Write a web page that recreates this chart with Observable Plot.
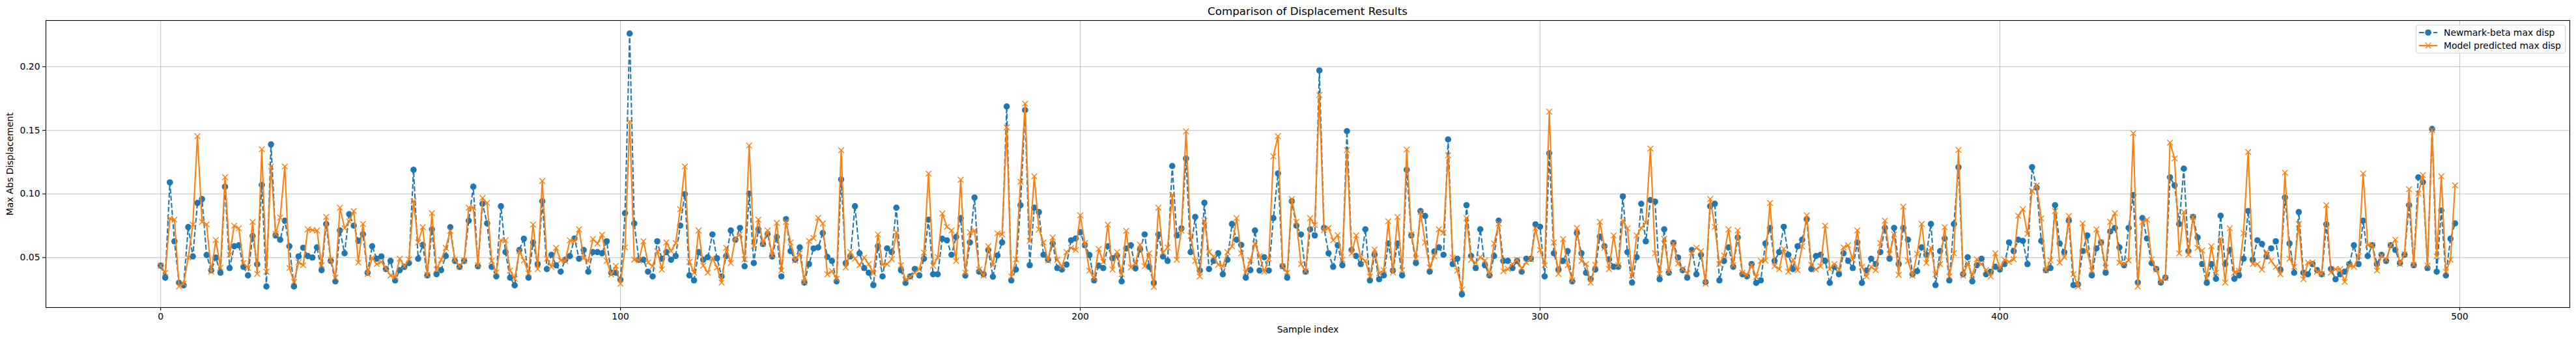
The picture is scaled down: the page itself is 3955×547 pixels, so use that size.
<!DOCTYPE html>
<html>
<head>
<meta charset="utf-8">
<script src="https://cdn.jsdelivr.net/npm/d3@7"></script>
<script src="https://cdn.jsdelivr.net/npm/@observablehq/plot@0.6"></script>
<style>
  html, body { margin: 0; padding: 0; background: white; }
  #wrap { position: relative; width: 3955px; height: 547px; font-family: "DejaVu Sans", sans-serif; color: black; }
  #title { position: absolute; left: 70px; width: 3875px; top: 9px; text-align: center; font-size: 16.7px; line-height: 1; }
  #chart { position: absolute; left: 0; top: 30px; }
  #legend { position: absolute; left: 3709px; top: 38px; width: 228px; height: 42px; border: 1px solid #d4d4d4; border-radius: 3px; background: rgba(255,255,255,0.8); font-size: 13.9px; }
  .row { position: absolute; left: 0; height: 20px; width: 100%; }
  .row svg { position: absolute; left: 4px; top: 3px; }
  .row span { position: absolute; left: 42px; top: 1px; line-height: 18px; white-space: nowrap; }
</style>
</head>
<body>
<div id="wrap">
  <div id="title">Comparison of Displacement Results</div>
  <div id="chart"></div>
  <div id="legend"></div>
</div>
<script>
const seriesNames = ["Newmark-beta max disp", "Model predicted max disp"];
const xTicks = [0, 100, 200, 300, 400, 500];
const yTicks = [0.05, 0.10, 0.15, 0.20];
const xLabel = "Sample index";
const yLabel = "Max Abs Displacement";

const newmark = [
0.0437,0.0342,0.1091,0.0628,0.0301,0.0282,0.0740,0.0509,0.0929,0.0960,
0.0520,0.0400,0.0500,0.0381,0.1057,0.0418,0.0589,0.0597,0.0428,0.0360,
0.0670,0.0447,0.1071,0.0273,0.1390,0.0674,0.0640,0.0790,0.0589,0.0273,
0.0509,0.0577,0.0512,0.0500,0.0580,0.0401,0.0764,0.0474,0.0313,0.0713,
0.0534,0.0841,0.0751,0.0631,0.0684,0.0381,0.0589,0.0491,0.0509,0.0410,
0.0474,0.0321,0.0401,0.0427,0.0457,0.1190,0.0491,0.0599,0.0360,0.0722,
0.0369,0.0401,0.0512,0.0739,0.0474,0.0427,0.0474,0.0790,0.1057,0.0432,
0.0923,0.0769,0.0428,0.0352,0.0904,0.0543,0.0342,0.0282,0.0560,0.0648,
0.0342,0.0619,0.0449,0.0943,0.0410,0.0522,0.0440,0.0389,0.0483,0.0512,
0.0650,0.0491,0.0560,0.0389,0.0543,0.0543,0.0534,0.0628,0.0381,0.0381,
0.0326,0.0849,0.2261,0.0768,0.0483,0.0483,0.0389,0.0352,0.0628,0.0491,
0.0543,0.0483,0.0512,0.0751,0.0999,0.0360,0.0321,0.0543,0.0483,0.0503,
0.0682,0.0495,0.0352,0.0512,0.0713,0.0640,0.0733,0.0432,0.1003,0.0457,
0.0722,0.0607,0.0687,0.0509,0.0662,0.0352,0.0802,0.0551,0.0483,0.0580,
0.0304,0.0449,0.0572,0.0580,0.0693,0.0505,0.0474,0.0313,0.1114,0.0457,
0.0509,0.0904,0.0534,0.0418,0.0381,0.0284,0.0590,0.0352,0.0572,0.0543,
0.0892,0.0401,0.0301,0.0352,0.0410,0.0360,0.0491,0.0798,0.0369,0.0369,
0.0648,0.0636,0.0522,0.0662,0.0810,0.0359,0.0619,0.0972,0.0389,0.0369,
0.0560,0.0350,0.0517,0.0619,0.1688,0.0321,0.0406,0.0912,0.1659,0.0440,
0.0892,0.0858,0.0522,0.0483,0.0611,0.0418,0.0406,0.0445,0.0636,0.0650,
0.0699,0.0597,0.0520,0.0321,0.0437,0.0418,0.0589,0.0495,0.0517,0.0313,
0.0572,0.0597,0.0415,0.0563,0.0682,0.0427,0.0301,0.0682,0.0509,0.0474,
0.1220,0.0674,0.0730,0.1279,0.0543,0.0819,0.0398,0.0931,0.0410,0.0474,
0.0534,0.0369,0.0483,0.0764,0.0640,0.0599,0.0342,0.0401,0.0713,0.0398,
0.0503,0.0398,0.0810,0.1161,0.0432,0.0342,0.0943,0.0751,0.0682,0.0389,
0.0722,0.0674,0.1971,0.0733,0.0534,0.0428,0.0597,0.0440,0.1494,0.0560,
0.0512,0.0449,0.0722,0.0321,0.0522,0.0330,0.0360,0.0611,0.0398,0.0611,
0.0360,0.1190,0.0674,0.0457,0.0866,0.0827,0.0389,0.0548,0.0580,0.0522,
0.1429,0.0449,0.0491,0.0210,0.0912,0.0512,0.0418,0.0722,0.0440,0.0360,
0.0512,0.0790,0.0474,0.0474,0.0418,0.0474,0.0389,0.0491,0.0491,0.0761,
0.0742,0.0352,0.1321,0.0534,0.0406,0.0474,0.0551,0.0313,0.0693,0.0534,
0.0381,0.0330,0.0406,0.0665,0.0589,0.0486,0.0428,0.0428,0.0981,0.0543,
0.0304,0.0503,0.0923,0.0628,0.0952,0.0940,0.0330,0.0722,0.0381,0.0616,
0.0500,0.0401,0.0342,0.0560,0.0369,0.0522,0.0307,0.0904,0.0923,0.0321,
0.0474,0.0580,0.0428,0.0658,0.0369,0.0352,0.0449,0.0301,0.0321,0.0611,
0.0733,0.0474,0.0543,0.0742,0.0522,0.0410,0.0589,0.0640,0.0802,0.0410,
0.0512,0.0522,0.0474,0.0301,0.0427,0.0369,0.0534,0.0474,0.0418,0.0619,
0.0301,0.0398,0.0491,0.0449,0.0543,0.0733,0.0491,0.0733,0.0449,0.0733,
0.0640,0.0369,0.0393,0.0580,0.0522,0.0764,0.0284,0.0551,0.0650,0.0321,
0.0764,0.1211,0.0369,0.0503,0.0313,0.0440,0.0491,0.0369,0.0389,0.0428,
0.0406,0.0449,0.0619,0.0551,0.0640,0.0631,0.0449,0.1211,0.1049,0.0631,
0.0401,0.0418,0.0912,0.0611,0.0543,0.0790,0.0284,0.0290,0.0551,0.0674,
0.0360,0.0572,0.0619,0.0381,0.0705,0.0733,0.0580,0.0440,0.0733,0.0991,
0.0304,0.0810,0.0650,0.0457,0.0410,0.0304,0.0342,0.1131,0.1068,0.0764,
0.1199,0.0551,0.0820,0.0658,0.0449,0.0301,0.0449,0.0333,0.0829,0.0449,
0.0560,0.0333,0.0360,0.0491,0.0866,0.0483,0.0636,0.0607,0.0509,0.0572,
0.0628,0.0406,0.0972,0.0611,0.0381,0.0858,0.0381,0.0369,0.0449,0.0401,
0.0369,0.0761,0.0410,0.0330,0.0369,0.0389,0.0449,0.0597,0.0449,0.0790,
0.0512,0.0597,0.0449,0.0522,0.0474,0.0597,0.0560,0.0457,0.0522,0.0912,
0.0440,0.1131,0.1093,0.0418,0.1511,0.0389,0.0870,0.0360,0.0648,0.0769
];

const model = [
0.0437,0.0381,0.0807,0.0798,0.0273,0.0295,0.0500,0.0759,0.1454,0.0781,
0.0761,0.0389,0.0638,0.0420,0.1131,0.0522,0.0751,0.0730,0.0457,0.0420,
0.0781,0.0372,0.1352,0.0389,0.1216,0.0687,0.0815,0.1216,0.0418,0.0309,
0.0463,0.0440,0.0722,0.0716,0.0713,0.0440,0.0819,0.0483,0.0343,0.0892,
0.0730,0.0785,0.0866,0.0461,0.0764,0.0372,0.0497,0.0449,0.0466,0.0415,
0.0359,0.0347,0.0491,0.0432,0.0486,0.0943,0.0619,0.0739,0.0364,0.0849,
0.0406,0.0483,0.0577,0.0710,0.0483,0.0432,0.0478,0.0892,0.0892,0.0440,
0.0969,0.0929,0.0474,0.0384,0.0636,0.0636,0.0398,0.0333,0.0551,0.0478,
0.0376,0.0759,0.0410,0.1102,0.0491,0.0427,0.0577,0.0478,0.0474,0.0636,
0.0628,0.0722,0.0495,0.0474,0.0645,0.0611,0.0679,0.0474,0.0367,0.0435,
0.0295,0.0580,0.1569,0.0483,0.0478,0.0628,0.0461,0.0432,0.0551,0.0406,
0.0619,0.0551,0.0614,0.0880,0.1216,0.0466,0.0381,0.0713,0.0437,0.0381,
0.0495,0.0423,0.0304,0.0577,0.0457,0.0653,0.0682,0.0486,0.1381,0.0589,
0.0798,0.0611,0.0713,0.0517,0.0773,0.0398,0.0781,0.0619,0.0478,0.0534,
0.0307,0.0631,0.0653,0.0812,0.0768,0.0369,0.0393,0.0333,0.1344,0.0423,
0.0543,0.0491,0.0440,0.0500,0.0449,0.0376,0.0682,0.0444,0.0449,0.0488,
0.0699,0.0440,0.0326,0.0347,0.0381,0.0410,0.0539,0.1160,0.0437,0.0503,
0.0846,0.0742,0.0713,0.0474,0.1112,0.0381,0.0699,0.0713,0.0406,0.0359,
0.0589,0.0440,0.0691,0.0682,0.1523,0.0352,0.0486,0.1096,0.1710,0.0631,
0.1139,0.0722,0.0619,0.0478,0.0658,0.0483,0.0427,0.0543,0.0577,0.0560,
0.0832,0.0614,0.0398,0.0338,0.0568,0.0466,0.0759,0.0406,0.0543,0.0369,
0.0710,0.0423,0.0454,0.0602,0.0432,0.0534,0.0270,0.0892,0.0539,0.0580,
0.0994,0.0483,0.0713,0.1492,0.0670,0.0474,0.0352,0.0790,0.0543,0.0509,
0.0444,0.0432,0.0543,0.0589,0.0810,0.0534,0.0384,0.0478,0.0611,0.0512,
0.0389,0.0491,0.1296,0.1454,0.0432,0.0381,0.0960,0.0781,0.0449,0.0393,
0.0810,0.0756,0.1778,0.0716,0.0733,0.0636,0.0676,0.0483,0.1344,0.0534,
0.0674,0.0500,0.0474,0.0352,0.0563,0.0376,0.0401,0.0785,0.0384,0.0819,
0.0401,0.1349,0.0682,0.0495,0.0858,0.0619,0.0423,0.0509,0.0722,0.0696,
0.1304,0.0500,0.0398,0.0248,0.0810,0.0483,0.0457,0.0503,0.0478,0.0369,
0.0611,0.0768,0.0393,0.0410,0.0449,0.0483,0.0415,0.0461,0.0488,0.0730,
0.0560,0.0440,0.1647,0.0619,0.0372,0.0645,0.0440,0.0321,0.0733,0.0474,
0.0449,0.0304,0.0444,0.0781,0.0577,0.0410,0.0674,0.0440,0.0790,0.0730,
0.0359,0.0674,0.0733,0.0773,0.1357,0.0534,0.0372,0.0648,0.0389,0.0611,
0.0454,0.0410,0.0376,0.0539,0.0577,0.0551,0.0295,0.0960,0.0742,0.0449,
0.0517,0.0722,0.0440,0.0713,0.0381,0.0364,0.0440,0.0347,0.0474,0.0478,
0.0929,0.0432,0.0410,0.0568,0.0389,0.0483,0.0401,0.0589,0.0832,0.0444,
0.0406,0.0432,0.0751,0.0410,0.0449,0.0406,0.0580,0.0597,0.0483,0.0713,
0.0427,0.0352,0.0427,0.0401,0.0614,0.0790,0.0526,0.0682,0.0364,0.0900,
0.0474,0.0359,0.0529,0.0764,0.0457,0.0577,0.0369,0.0449,0.0739,0.0352,
0.0534,0.1347,0.0359,0.0454,0.0359,0.0486,0.0449,0.0401,0.0352,0.0534,
0.0418,0.0483,0.0466,0.0486,0.0829,0.0880,0.0687,0.1023,0.1066,0.0807,
0.0401,0.0478,0.0866,0.0461,0.0503,0.0827,0.0369,0.0273,0.0769,0.0551,
0.0398,0.0722,0.0619,0.0420,0.0781,0.0849,0.0461,0.0449,0.0478,0.1477,
0.0273,0.0781,0.0798,0.0486,0.0406,0.0313,0.0338,0.1403,0.1279,0.0534,
0.0858,0.0522,0.0819,0.0577,0.0556,0.0338,0.0589,0.0381,0.0648,0.0304,
0.0730,0.0381,0.0398,0.0691,0.1330,0.0449,0.0449,0.0406,0.0543,0.0474,
0.0427,0.0369,0.1168,0.0491,0.0427,0.0764,0.0330,0.0461,0.0461,0.0389,
0.0372,0.0912,0.0381,0.0410,0.0410,0.0309,0.0440,0.0427,0.0512,0.1160,
0.0597,0.0597,0.0398,0.0517,0.0483,0.0597,0.0640,0.0449,0.0526,0.1037,
0.0444,0.1003,0.1148,0.0437,0.1502,0.0509,0.1139,0.0389,0.0483,0.1068
];

const colors = ["#1f77b4", "#ff7f0e"];

const nbData = newmark.map((v, i) => ({i, v}));
const mdData = model.map((v, i) => ({i, v}));

// matplotlib-style 5% margins
const n = newmark.length;
const xPad = (n - 1) * 0.05;
const xDomain = [0 - xPad, (n - 1) + xPad];
const all = newmark.concat(model);
const yMin = d3.min(all), yMax = d3.max(all);
const yPad = (yMax - yMin) * 0.05;
const yDomain = [yMin - yPad, yMax + yPad];

const gridStyle = {stroke: "#b0b0b0", strokeOpacity: 1, strokeWidth: 0.8};

const chart = Plot.plot({
  width: 3955,
  height: 517,
  marginLeft: 70,
  marginRight: 10,
  marginTop: 1,
  marginBottom: 75,
  style: {fontFamily: "DejaVu Sans", fontSize: "13.9px", background: "white", color: "black", overflow: "visible"},
  x: {domain: xDomain},
  y: {domain: yDomain},
  marks: [
    Plot.gridX(xTicks, gridStyle),
    Plot.gridY(yTicks, gridStyle),
    Plot.axisX(xTicks, {tickSize: 5, tickPadding: 4, label: null, fontSize: 13.9, strokeWidth: 1.1}),
    Plot.axisY(yTicks, {tickSize: 5, tickPadding: 4, label: null, fontSize: 13.9, strokeWidth: 1.1, tickFormat: d3.format(".2f")}),
    Plot.line(nbData, {x: "i", y: "v", stroke: colors[0], strokeWidth: 2.08, strokeDasharray: "7.7,3.3", strokeLinecap: "butt"}),
    Plot.dot(nbData, {x: "i", y: "v", r: 4.8, fill: colors[0]}),
    Plot.line(mdData, {x: "i", y: "v", stroke: colors[1], strokeWidth: 2.08}),
    Plot.dot(mdData, {x: "i", y: "v", symbol: "times", r: 4, stroke: colors[1], strokeWidth: 1.4}),
    Plot.frame({stroke: "black", strokeWidth: 1.1}),
    Plot.text([xLabel], {text: d => d, frameAnchor: "bottom", dy: 34, textAnchor: "middle", lineAnchor: "middle", fontSize: 13.9}),
    Plot.text([yLabel], {text: d => d, frameAnchor: "left", dx: -55, rotate: -90, textAnchor: "middle", lineAnchor: "middle", fontSize: 13.9})
  ]
});
document.getElementById("chart").appendChild(chart);

// legend (HTML)
const legend = document.getElementById("legend");
seriesNames.forEach((name, k) => {
  const row = document.createElement("div");
  row.className = "row";
  row.style.top = (1 + k * 20) + "px";
  const marker = k === 0
    ? `<circle cx="14" cy="7" r="4.8" fill="${colors[0]}"/>`
    : `<path d="M9.8,2.8L18.2,11.2M9.8,11.2L18.2,2.8" stroke="${colors[1]}" stroke-width="1.4" fill="none"/>`;
  const dash = k === 0 ? `stroke-dasharray="7.7,3.3"` : "";
  row.innerHTML = `<svg width="28" height="14"><line x1="0" y1="7" x2="28" y2="7" stroke="${colors[k]}" stroke-width="2.08" ${dash}/>${marker}</svg><span>${name}</span>`;
  legend.appendChild(row);
});
</script>
</body>
</html>
